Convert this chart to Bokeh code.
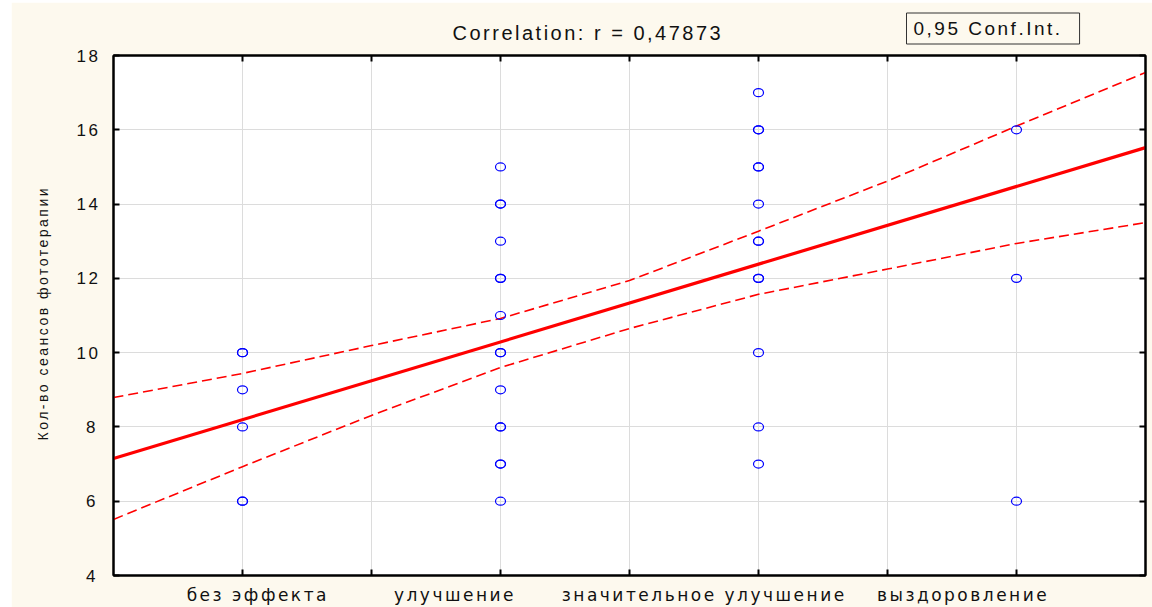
import math
from bokeh.plotting import figure
from bokeh.models import FixedTicker, LinearAxis, Label, Range1d, CustomJSTickFormatter
from bokeh.embed import file_html
from bokeh.resources import INLINE

# outcome categories (coded 1..4 on the x axis)
categories = ["без эффекта", "улучшение", "значительное улучшение", "выздоровление"]
cat_codes = [1, 2, 3, 4]

# observations: outcome group code and number of phototherapy sessions
group = [1, 1, 1, 1, 1, 1,
         2, 2, 2, 2, 2, 2, 2, 2, 2, 2, 2, 2, 2, 2, 2,
         3, 3, 3, 3, 3, 3, 3, 3, 3, 3, 3, 3, 3,
         4, 4, 4]
sessions = [10, 10, 9, 8, 6, 6,
            15, 14, 14, 13, 12, 12, 11, 10, 10, 9, 8, 8, 7, 7, 6,
            17, 16, 16, 15, 15, 14, 13, 13, 12, 12, 10, 8, 7,
            16, 12, 6]

# fitted regression line and 0.95 confidence limits
fit_x = [0.5, 4.5]
fit_y = [7.15, 15.52]
band_x = [0.5, 1.0, 1.5, 2.0, 2.5, 3.0, 3.5, 4.0, 4.5]
upper_y = [8.79, 9.44, 10.19, 10.92, 11.94, 13.27, 14.62, 16.10, 17.54]
lower_y = [5.51, 6.93, 8.31, 9.60, 10.65, 11.57, 12.25, 12.94, 13.50]

y_ticks = [4, 6, 8, 10, 12, 14, 16, 18]
mid_ticks = [1.5, 2.5, 3.5]
# where the category names sit along the x axis (Statistica-style offsets)
name_pos = [1.006, 1.780, 2.683, 3.730]

title_text = "Correlation: r = 0,47873"
conf_text = "0,95 Conf.Int."
y_title = "Кол-во сеансов фототерапии"

cream = "#fdf9ee"
grid_col = "#dcdcdc"
ink = "#111111"

p = figure(width=1141, height=605, output_backend="svg", toolbar_location=None,
           x_range=Range1d(0.5, 4.5), y_range=Range1d(4, 18),
           min_border_left=102, min_border_right=7, min_border_top=46, min_border_bottom=32,
           margin=(2, 0, 0, 11))
p.border_fill_color = cream
p.background_fill_color = "white"
p.outline_line_color = "black"
p.outline_line_width = 2
p.styles = {"letter-spacing": "2.5px"}

x_ticker = FixedTicker(ticks=cat_codes, minor_ticks=mid_ticks)
y_ticker = FixedTicker(ticks=y_ticks, minor_ticks=[])
name_ticker = FixedTicker(ticks=name_pos, minor_ticks=cat_codes + mid_ticks)

xa = p.xaxis[0]
xa.ticker = name_ticker
xa.formatter = CustomJSTickFormatter(args=dict(names=categories), code="return names[index]")
xa.major_label_text_font = "DejaVu Sans"
xa.major_label_text_font_size = "17px"
xa.major_label_text_color = ink
xa.major_label_standoff = 9

ya = p.yaxis[0]
ya.ticker = y_ticker
ya.major_label_text_font = "Liberation Sans"
ya.major_label_text_font_size = "17px"
ya.major_label_text_color = ink
ya.major_label_standoff = 18

top = LinearAxis(ticker=x_ticker, major_label_text_color=None)
right = LinearAxis(ticker=y_ticker, major_label_text_color=None)
p.add_layout(top, "above")
p.add_layout(right, "right")

for ax in [xa, ya, top, right]:
    ax.axis_line_color = "black"
    ax.axis_line_width = 2
    ax.major_tick_in = 6
    ax.major_tick_out = 0
    ax.minor_tick_in = 6
    ax.minor_tick_out = 0
    ax.major_tick_line_color = "black"
    ax.major_tick_line_width = 2
    ax.minor_tick_line_color = "black"
    ax.minor_tick_line_width = 2
xa.major_tick_line_color = None

p.xgrid.ticker = x_ticker
p.xgrid.grid_line_color = grid_col
p.xgrid.minor_grid_line_color = grid_col
p.ygrid.ticker = y_ticker
p.ygrid.grid_line_color = grid_col

# confidence limits
p.line(band_x, upper_y, line_color="red", line_width=1.6, line_dash="10 5")
p.line(band_x, lower_y, line_color="red", line_width=1.6, line_dash="10 5")
# regression line
p.line(fit_x, fit_y, line_color="red", line_width=3.2)

# observations
p.ellipse(group, sessions, width=10, height=8, width_units="screen", height_units="screen",
          fill_color=None, line_color="blue", line_width=1.2)

# y axis title
p.add_layout(Label(x=31, y=438, x_units="canvas", y_units="canvas", text=y_title,
                   angle=math.pi / 2, text_align="left", text_baseline="alphabetic",
                   text_font="Liberation Sans", text_font_size="14px", text_color=ink), "left")

# chart title
p.add_layout(Label(x=441, y=30, x_units="canvas", y_units="canvas", text=title_text,
                   text_align="left", text_baseline="alphabetic",
                   text_font="Liberation Sans", text_font_size="20px", text_color=ink), "above")

# confidence-interval key
p.add_layout(Label(x=895, y=26, x_units="canvas", y_units="canvas", text=conf_text,
                   text_align="left", text_baseline="alphabetic",
                   text_font="Liberation Sans", text_font_size="19px", text_color=ink,
                   border_line_color="#333333", border_line_width=1,
                   background_fill_color=cream,
                   padding=dict(left=7, right=52, top=5, bottom=5)), "above")

open("out.html", "w").write(file_html(p, INLINE))
